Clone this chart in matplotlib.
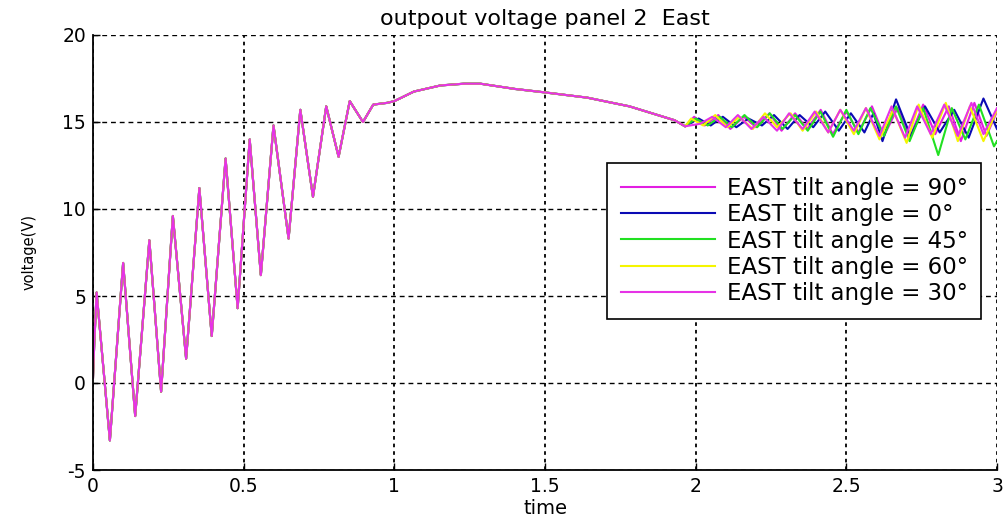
import matplotlib
matplotlib.use("Agg")
import matplotlib.pyplot as plt
import numpy as np

# ---------------- data ----------------
title = "outpout voltage panel 2  East"
xlabel = "time"
ylabel = "voltage(V)"
xticks = [0, 0.5, 1, 1.5, 2, 2.5, 3]
xtick_labels = ["0", "0.5", "1", "1.5", "2", "2.5", "3"]
yticks = [-5, 0, 5, 10, 15, 20]
ytick_labels = ["-5", "0", "5", "10", "15", "20"]

legend_labels = ["EAST tilt angle = 90°", "EAST tilt angle = 0°",
                 "EAST tilt angle = 45°", "EAST tilt angle = 60°",
                 "EAST tilt angle = 30°"]

# common part (all five curves overlap up to t ~ 1.97)
common_t = [0.0, 0.004, 0.012, 0.056, 0.10, 0.14, 0.187, 0.226, 0.265, 0.309,
            0.353, 0.394, 0.44, 0.48, 0.52, 0.557, 0.599, 0.649, 0.688, 0.73,
            0.774, 0.815, 0.852, 0.896, 0.93, 0.976, 1.0, 1.065, 1.153, 1.23,
            1.286, 1.40, 1.50, 1.64, 1.78, 1.93, 1.965]
common_v = [0.3, 2.2, 5.2, -3.3, 6.9, -1.9, 8.2, -0.5, 9.6, 1.4,
            11.2, 2.7, 12.9, 4.3, 14.0, 6.2, 14.8, 8.3, 15.7, 10.7,
            15.9, 13.0, 16.2, 15.0, 16.0, 16.1, 16.2, 16.75, 17.1, 17.2,
            17.2, 16.9, 16.7, 16.4, 15.9, 15.1, 14.75]

# individual tails (t > 1.965)
tail90_t = [1.995, 2.03, 2.075, 2.115, 2.16, 2.20, 2.245, 2.285, 2.33, 2.37,
            2.415, 2.455, 2.50, 2.54, 2.585, 2.625, 2.67, 2.71, 2.755, 2.795,
            2.84, 2.88, 2.925, 2.965, 3.0]
tail90_v = [15.3, 14.8, 15.4, 14.6, 15.3, 14.7, 15.5, 14.5, 15.5, 14.6,
            15.7, 14.3, 15.6, 14.4, 15.9, 14.2, 15.8, 14.1, 16.0, 14.3,
            15.9, 13.9, 16.1, 14.2, 15.6]

tail0_t = [2.01, 2.05, 2.09, 2.135, 2.175, 2.22, 2.26, 2.305, 2.345, 2.39,
           2.43, 2.475, 2.515, 2.56, 2.59, 2.62, 2.665, 2.713, 2.761, 2.81,
           2.858, 2.906, 2.955, 3.0]
tail0_v = [15.2, 14.8, 15.3, 14.7, 15.2, 14.8, 15.4, 14.6, 15.4, 14.7,
           15.6, 14.5, 15.5, 14.4, 15.5, 13.9, 16.3, 14.2, 15.9, 14.4,
           15.7, 14.1, 16.35, 14.6]

tail45_t = [2.00, 2.04, 2.08, 2.12, 2.162, 2.204, 2.246, 2.288, 2.33, 2.372,
            2.414, 2.456, 2.50, 2.54, 2.58, 2.625, 2.665, 2.71, 2.755, 2.805,
            2.85, 2.895, 2.94, 2.99, 3.0]
tail45_v = [15.2, 14.8, 15.3, 14.7, 15.4, 14.7, 15.5, 14.6, 15.4, 14.5,
            15.6, 14.15, 15.7, 14.3, 15.8, 14.2, 15.9, 13.9, 15.8, 13.1,
            15.8, 14.0, 16.0, 13.6, 13.9]

tail60_t = [1.985, 2.025, 2.065, 2.105, 2.145, 2.19, 2.23, 2.27, 2.315, 2.355,
            2.40, 2.44, 2.48, 2.525, 2.565, 2.61, 2.655, 2.70, 2.74, 2.785,
            2.83, 2.87, 2.91, 2.955, 3.0]
tail60_v = [15.2, 14.8, 15.4, 14.7, 15.3, 14.6, 15.5, 14.7, 15.5, 14.5,
            15.6, 14.4, 15.7, 14.3, 15.8, 14.0, 15.7, 13.8, 16.0, 14.1,
            16.1, 13.9, 15.9, 13.9, 15.7]

tail30_t = [2.015, 2.055, 2.10, 2.14, 2.185, 2.225, 2.27, 2.31, 2.355, 2.395,
            2.44, 2.48, 2.525, 2.565, 2.61, 2.65, 2.695, 2.735, 2.78, 2.825,
            2.87, 2.915, 2.955, 3.0]
tail30_v = [14.9, 15.3, 14.7, 15.4, 14.6, 15.3, 14.5, 15.5, 14.6, 15.6,
            14.4, 15.7, 14.5, 15.8, 14.2, 15.9, 14.1, 15.9, 14.3, 16.0,
            14.2, 16.1, 14.3, 15.8]

series_colors = ["#E21EE2", "#0A0AB4", "#22E022", "#F5F500", "#E633E6"]

# ---------------- figure ----------------
plt.rcParams['font.family'] = ['DejaVu Sans']
fig = plt.figure(figsize=(10.05, 5.17), dpi=100)
ax = fig.add_axes([93 / 1005, 1 - 470 / 517, (997 - 93) / 1005, (470 - 35) / 517])

tails = [(tail90_t, tail90_v), (tail0_t, tail0_v), (tail45_t, tail45_v),
         (tail60_t, tail60_v), (tail30_t, tail30_v)]
for (tt, vv), c, lab in zip(tails, series_colors, legend_labels):
    ax.plot(common_t + tt, common_v + vv, color=c, lw=1.5, label=lab)

ax.set_xlim(0, 3)
ax.set_ylim(-5, 20)
ax.set_xticks(xticks)
ax.set_xticklabels(xtick_labels)
ax.set_yticks(yticks)
ax.set_yticklabels(ytick_labels)
ax.tick_params(direction='in', length=5, width=1, labelsize=13.5, pad=5,
               colors='black')

ax.xaxis.grid(True, color='black', ls=(0, (2, 2.2)), lw=1.3)
ax.yaxis.grid(True, color='black', ls=(0, (3.5, 2.8)), lw=1.0)
ax.set_axisbelow(True)

for s in ['top', 'right']:
    ax.spines[s].set_visible(False)
for s in ['left', 'bottom']:
    ax.spines[s].set_linewidth(1.3)
    ax.spines[s].set_color('black')

ax.set_title(title, fontsize=16, pad=7)
ax.set_xlabel(xlabel, fontsize=14, labelpad=2)
ax.set_ylabel(ylabel, fontsize=10.5)
ax.yaxis.set_label_coords(-0.062, 0.5)

leg = ax.legend(loc='upper left', bbox_to_anchor=(0.569, 0.706),
                fontsize=16.5, handlelength=4.1, handletextpad=0.5,
                labelspacing=0.15, borderpad=0.6, borderaxespad=0,
                fancybox=False, framealpha=1, edgecolor='black')
leg.get_frame().set_linewidth(1.2)

fig.savefig("out.png", dpi=100)
